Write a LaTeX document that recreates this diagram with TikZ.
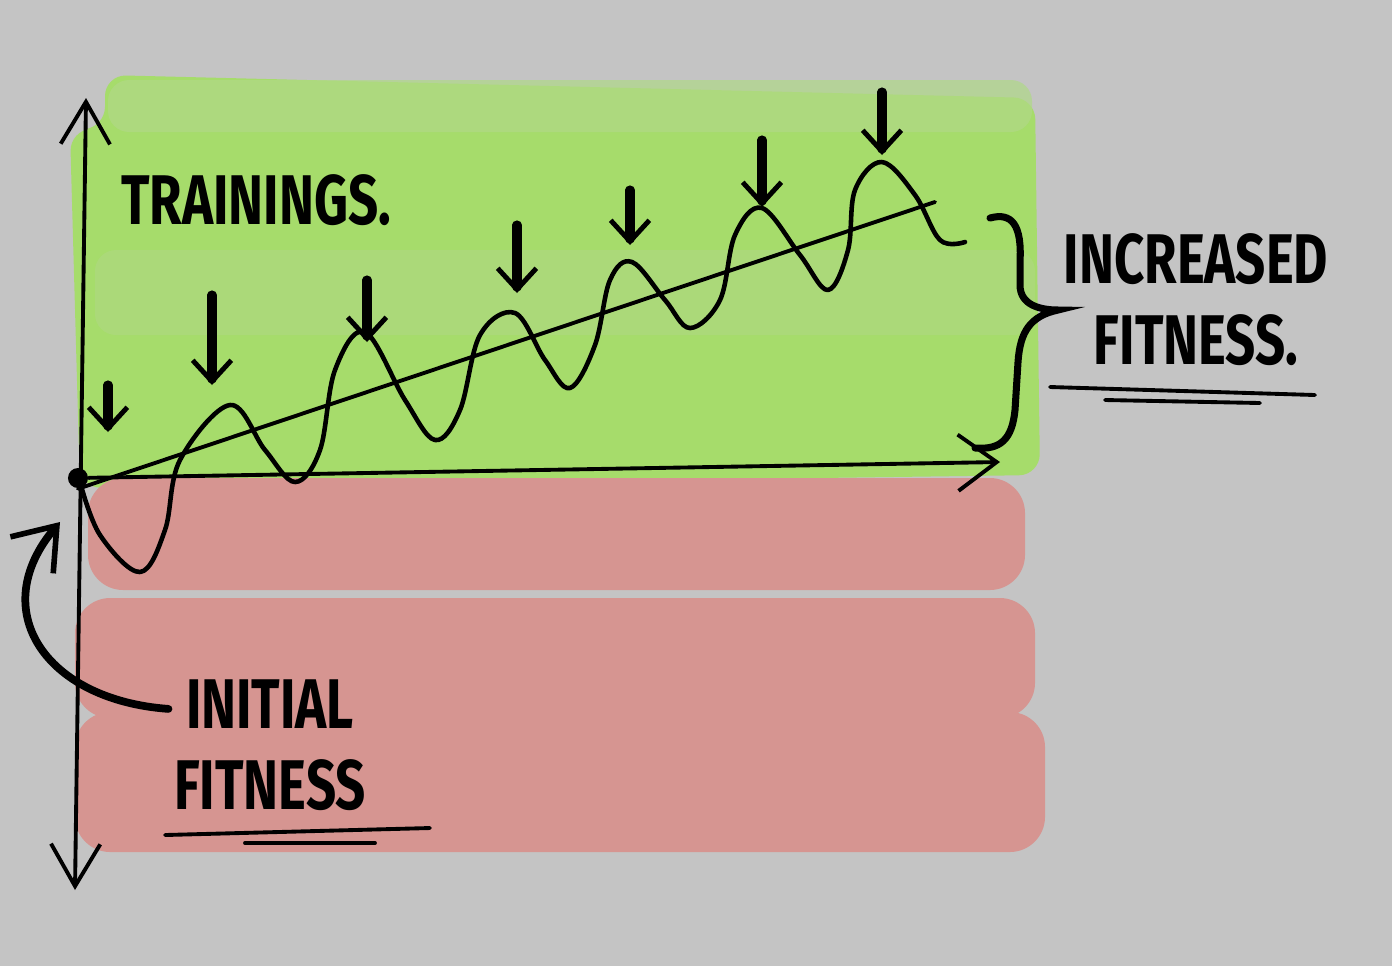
\documentclass[tikz,border=0pt]{standalone}
\usepackage{fontspec}
\newfontfamily\sketchfont{Fira Sans}
\usetikzlibrary{arrows.meta}
\definecolor{paper}{HTML}{C4C4C4}
\definecolor{goodgreen}{HTML}{A6DC6B}
\definecolor{palegreen}{HTML}{B0D887}
\definecolor{badred}{HTML}{D69591}
\newcommand{\narrow}[1]{\scalebox{0.75}[1]{#1}}
\tikzstyle{hand} = [line width=1.1pt, line cap=round, line join=round]
\tikzstyle{hit} = [line width=2.6pt, line cap=round, -{Straight Barb[length=6pt,width=11pt,line width=1.4pt]}]
\tikzstyle{lbl} = [font=\sketchfont\bfseries\fontsize{20}{23}\selectfont, inner sep=0pt, align=center]
\tikzstyle{dot} = [circle, fill=black, inner sep=0pt, minimum size=0.2cm]

\begin{document}
\begin{tikzpicture}[x=0.01cm, y=-0.01cm]
\useasboundingbox (0,0) rectangle (1392,966);
\fill[paper] (0,0) rectangle (1392,966);

% Bands
\fill[goodgreen, rounded corners=6] (105,75) -- (1035,98) -- (1040,475) -- (80,488) -- (70,130) -- (105,128) -- cycle;
\fill[palegreen, opacity=0.7, rounded corners=6] (108,80) rectangle (1032,132);
\fill[palegreen, opacity=0.5, rounded corners=6] (95,250) rectangle (1035,335);
\fill[badred, rounded corners=10] (88,478) rectangle (1025,590);
\fill[badred, rounded corners=10] (75,598) rectangle (1035,718);
\fill[badred, rounded corners=10] (75,712) rectangle (1045,852);

% Define nodes
\node[dot]                     (start) at (78,478) {};
\coordinate                    (ytop)  at (86,98);
\coordinate                    (ybot)  at (75,890);
\coordinate                    (xend)  at (1000,462);
\coordinate                    (trend) at (935,202);
\coordinate                    (point) at (60,522);
\node[lbl]                     (train) at (256,200) {\narrow{TRAININGS.}};
\node[lbl]                     (inc)   at (1196,300) {\narrow{INCREASED}\\\narrow{FITNESS.}};
\node[lbl]                     (ini)   at (270,745) {\narrow{INITIAL}\\\narrow{FITNESS}};

% Axes
\draw[hand, {Straight Barb[length=12pt,width=14pt]}-{Straight Barb[length=12pt,width=14pt]}] (ytop) -- (ybot);
\draw[hand, -{Straight Barb[length=11pt,width=16pt]}] (start) -- (xend);
\draw[hand] (start.south) -- (trend);

% Fitness curve
\draw[hand, line width=1.3pt] plot[smooth, tension=0.6] coordinates {
  (80,482) (100,535) (140,572) (165,530) (180,460) (230,405) (265,450) (295,482)
  (320,450) (335,370) (365,332) (405,400) (435,440) (460,410) (480,335) (515,313)
  (545,360) (570,388) (595,345) (610,280) (632,262) (665,300) (690,328)
  (720,300) (735,235) (762,208) (800,255) (828,290) (848,250) (855,190)
  (882,162) (915,195) (940,240) (965,242)};

% Trainings
\foreach \xa/\ya/\yb in {108/385/432, 212/295/385, 367/280/342, 517/225/293,
                         630/190/245, 762/140/207, 882/92/155}
  \draw[hit] (\xa,\ya) -- (\xa,\yb);

% Brace
\draw[line width=2pt, line cap=round] (990,218) .. controls (1012,212) and (1022,225) .. (1020,262)
  -- (1020,285) .. controls (1020,305) and (1040,310) .. (1058,310)
  .. controls (1030,316) and (1020,332) .. (1018,362)
  -- (1015,410) .. controls (1012,440) and (1000,450) .. (975,448);

% Pointer
\draw[line width=2.2pt, line cap=round, -{Straight Barb[length=11pt,width=16pt,line width=1.6pt]}]
  (ini.north west) ++(-5,30) .. controls (45,700) and (-15,610) .. (point);

% Underlines
\draw[hand] (1050,387) -- (1315,395);
\draw[hand] (1105,400) -- (1260,403);
\draw[hand] (165,835) -- (430,828);
\draw[hand] (245,843) -- (375,843);
\end{tikzpicture}
\end{document}
